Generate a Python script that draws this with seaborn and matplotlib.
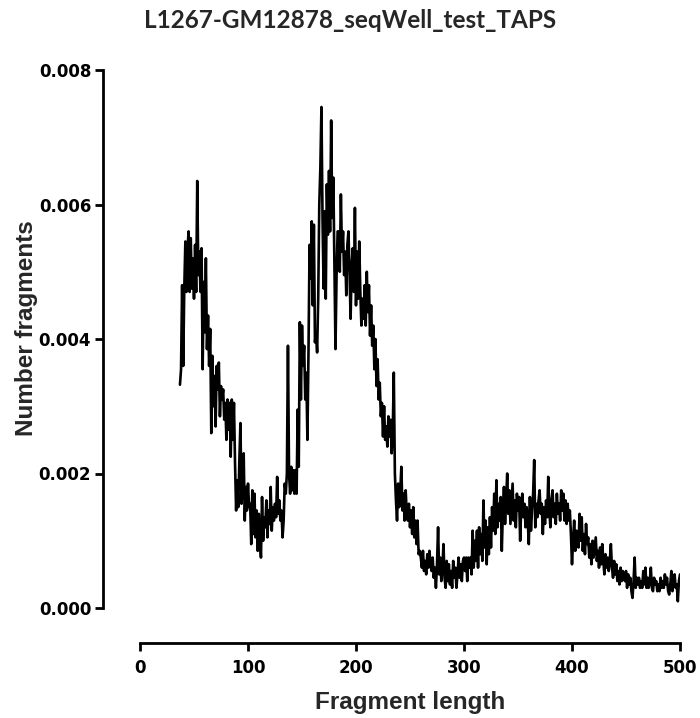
import matplotlib
matplotlib.use("Agg")
import matplotlib.pyplot as plt
import seaborn as sns
import pandas as pd

# Fragment length (bp) categories
start_len = 37
end_len = 500

# Normalised fragment counts, one per fragment length 37..500
counts = [
    0.00332, 0.00355, 0.00480, 0.00360, 0.00475, 0.00545, 0.00470, 0.00535, 0.00560, 0.00470,
    0.00550, 0.00475, 0.00520, 0.00460, 0.00540, 0.00470, 0.00635, 0.00495, 0.00530, 0.00470,
    0.00535, 0.00355, 0.00485, 0.00410, 0.00520, 0.00385, 0.00435, 0.00360, 0.00415, 0.00260,
    0.00375, 0.00300, 0.00345, 0.00270, 0.00360, 0.00325, 0.00365, 0.00285, 0.00330, 0.00310,
    0.00325, 0.00280, 0.00305, 0.00250, 0.00310, 0.00265, 0.00305, 0.00225, 0.00310, 0.00250,
    0.00305, 0.00215, 0.00145, 0.00190, 0.00150, 0.00220, 0.00275, 0.00155, 0.00185, 0.00230,
    0.00130, 0.00180, 0.00145, 0.00185, 0.00150, 0.00155, 0.00095, 0.00175, 0.00110, 0.00170,
    0.00105, 0.00145, 0.00085, 0.00140, 0.00105, 0.00075, 0.00165, 0.00100, 0.00135, 0.00120,
    0.00160, 0.00105, 0.00145, 0.00125, 0.00180, 0.00115, 0.00150, 0.00130, 0.00155, 0.00135,
    0.00195, 0.00140, 0.00160, 0.00130, 0.00145, 0.00105, 0.00130, 0.00185, 0.00170, 0.00200,
    0.00390, 0.00200, 0.00170, 0.00210, 0.00175, 0.00205, 0.00170, 0.00205, 0.00170, 0.00295,
    0.00210, 0.00425, 0.00310, 0.00420, 0.00360, 0.00390, 0.00310, 0.00350, 0.00250, 0.00380,
    0.00540, 0.00490, 0.00575, 0.00450, 0.00570, 0.00395, 0.00410, 0.00380, 0.00460, 0.00600,
    0.00655, 0.00745, 0.00580, 0.00475, 0.00590, 0.00460, 0.00630, 0.00555, 0.00650, 0.00560,
    0.00725, 0.00580, 0.00640, 0.00510, 0.00385, 0.00495, 0.00560, 0.00560, 0.00500, 0.00615,
    0.00530, 0.00560, 0.00495, 0.00530, 0.00465, 0.00540, 0.00560, 0.00500, 0.00430, 0.00510,
    0.00535, 0.00470, 0.00595, 0.00450, 0.00530, 0.00460, 0.00545, 0.00470, 0.00420, 0.00460,
    0.00430, 0.00480, 0.00420, 0.00500, 0.00440, 0.00480, 0.00405, 0.00450, 0.00390, 0.00420,
    0.00355, 0.00400, 0.00330, 0.00370, 0.00310, 0.00335, 0.00285, 0.00305, 0.00255, 0.00300,
    0.00250, 0.00270, 0.00240, 0.00285, 0.00255, 0.00280, 0.00230, 0.00260, 0.00350, 0.00200,
    0.00160, 0.00130, 0.00185, 0.00150, 0.00175, 0.00210, 0.00145, 0.00170, 0.00130, 0.00175,
    0.00140, 0.00130, 0.00155, 0.00120, 0.00145, 0.00110, 0.00150, 0.00105, 0.00130, 0.00095,
    0.00130, 0.00080, 0.00085, 0.00075, 0.00060, 0.00085, 0.00055, 0.00070, 0.00050, 0.00080,
    0.00060, 0.00085, 0.00065, 0.00055, 0.00075, 0.00045, 0.00060, 0.00030, 0.00065, 0.00120,
    0.00050, 0.00075, 0.00040, 0.00060, 0.00095, 0.00045, 0.00030, 0.00070, 0.00040, 0.00065,
    0.00035, 0.00055, 0.00030, 0.00070, 0.00045, 0.00060, 0.00030, 0.00050, 0.00075, 0.00045,
    0.00065, 0.00040, 0.00070, 0.00075, 0.00055, 0.00075, 0.00040, 0.00075, 0.00060, 0.00075,
    0.00050, 0.00115, 0.00060, 0.00100, 0.00070, 0.00115, 0.00060, 0.00120, 0.00080, 0.00110,
    0.00070, 0.00160, 0.00090, 0.00130, 0.00065, 0.00120, 0.00080, 0.00135, 0.00090, 0.00150,
    0.00115, 0.00170, 0.00110, 0.00190, 0.00120, 0.00155, 0.00130, 0.00165, 0.00085, 0.00145,
    0.00180, 0.00125, 0.00160, 0.00200, 0.00140, 0.00175, 0.00125, 0.00155, 0.00185, 0.00130,
    0.00160, 0.00120, 0.00170, 0.00145, 0.00165, 0.00100, 0.00150, 0.00170, 0.00135, 0.00155,
    0.00120, 0.00150, 0.00130, 0.00095, 0.00165, 0.00115, 0.00145, 0.00170, 0.00220, 0.00120,
    0.00155, 0.00135, 0.00160, 0.00175, 0.00140, 0.00155, 0.00110, 0.00150, 0.00125, 0.00160,
    0.00135, 0.00195, 0.00145, 0.00120, 0.00160, 0.00175, 0.00135, 0.00155, 0.00125, 0.00170,
    0.00140, 0.00155, 0.00130, 0.00175, 0.00145, 0.00170, 0.00130, 0.00160, 0.00125, 0.00155,
    0.00130, 0.00145, 0.00110, 0.00065, 0.00100, 0.00130, 0.00085, 0.00115, 0.00105, 0.00090,
    0.00140, 0.00100, 0.00135, 0.00085, 0.00110, 0.00080, 0.00125, 0.00095, 0.00105, 0.00075,
    0.00095, 0.00065, 0.00100, 0.00075, 0.00090, 0.00105, 0.00070, 0.00085, 0.00060, 0.00090,
    0.00065, 0.00095, 0.00070, 0.00050, 0.00080, 0.00060, 0.00075, 0.00055, 0.00070, 0.00095,
    0.00060, 0.00045, 0.00070, 0.00050, 0.00065, 0.00040, 0.00055, 0.00035, 0.00060, 0.00040,
    0.00055, 0.00045, 0.00040, 0.00055, 0.00030, 0.00050, 0.00035, 0.00045, 0.00025, 0.00015,
    0.00040, 0.00075, 0.00030, 0.00045, 0.00035, 0.00045, 0.00030, 0.00040, 0.00030, 0.00055,
    0.00035, 0.00060, 0.00030, 0.00045, 0.00030, 0.00040, 0.00060, 0.00030, 0.00025, 0.00045,
    0.00035, 0.00040, 0.00025, 0.00035, 0.00025, 0.00045, 0.00030, 0.00040, 0.00030, 0.00050,
    0.00035, 0.00045, 0.00025, 0.00020, 0.00035, 0.00055, 0.00025, 0.00040, 0.00050, 0.00030,
    0.00035, 0.00010, 0.00040, 0.00050,
]

x_ticks = [0, 100, 200, 300, 400, 500]
y_ticks = [0.000, 0.002, 0.004, 0.006, 0.008]
y_tick_labels = ["0.000", "0.002", "0.004", "0.006", "0.008"]

title = "L1267-GM12878_seqWell_test_TAPS"
x_label = "Fragment length"
y_label = "Number fragments"

lengths = list(range(start_len, end_len + 1))
assert len(lengths) == len(counts)
df = pd.DataFrame({"length": lengths, "count": counts})

sns.set_style("ticks")
plt.rcParams["font.family"] = ["DejaVu Sans"]

W, H = 700, 718
fig = plt.figure(figsize=(W / 100, H / 100), dpi=100)
ax = fig.add_axes([140 / W, 1 - 608 / H, 540 / W, 538 / H])

sns.lineplot(data=df, x="length", y="count", color="black", linewidth=1.9, ax=ax)

ax.set_xlim(0, 500)
ax.set_ylim(0, 0.008)
ax.set_xticks(x_ticks)
ax.set_xticklabels([str(t) for t in x_ticks])
ax.set_yticks(y_ticks)
ax.set_yticklabels(y_tick_labels)
ax.set_xlabel("")
ax.set_ylabel("")

for s in ["top", "right"]:
    ax.spines[s].set_visible(False)
ax.spines["left"].set_position(("outward", 37 * 0.72))
ax.spines["bottom"].set_position(("outward", 35 * 0.72))
for s in ["left", "bottom"]:
    ax.spines[s].set_linewidth(2.0)
    ax.spines[s].set_color("black")

ax.tick_params(axis="both", direction="out", length=5.5, width=2.0, colors="black",
               labelsize=12)
ax.tick_params(axis="x", pad=6)
ax.tick_params(axis="y", pad=3)
for lab in ax.get_xticklabels() + ax.get_yticklabels():
    lab.set_fontweight("bold")
    lab.set_family("DejaVu Sans")

fig.text(350 / W, 1 - 20 / H, title, ha="center", va="center",
         fontsize=17.5, fontweight="bold", family=["Lato", "DejaVu Sans"])
fig.text(410 / W, 1 - 703 / H, x_label, ha="center", va="center",
         fontsize=17.5, fontweight="bold", family=["Liberation Sans", "DejaVu Sans"])
fig.text(27 / W, 1 - 328 / H, y_label, ha="center", va="center", rotation=90,
         fontsize=17.5, fontweight="bold", family=["Liberation Sans", "DejaVu Sans"])

fig.savefig("out.png", dpi=100, facecolor="white")
